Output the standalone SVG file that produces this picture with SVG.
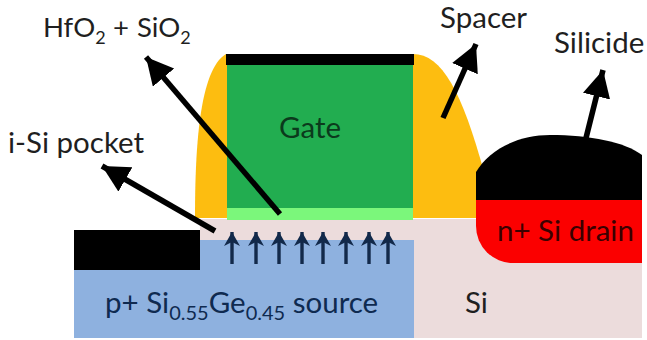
<svg xmlns="http://www.w3.org/2000/svg" width="647" height="340" viewBox="0 0 647 340">
<defs>
<marker id="big" markerUnits="userSpaceOnUse" markerWidth="32" markerHeight="32" refX="27" refY="14" orient="auto"><path d="M0 0L27 14L0 28Z" fill="#000"/></marker>
<marker id="small" markerUnits="userSpaceOnUse" markerWidth="20" markerHeight="20" refX="15" refY="9" orient="auto"><path d="M1 1L15 9L1 17L5 9Z" fill="#12294a"/></marker>
</defs>
<style>
text{font-family:"Lato","Open Sans","Liberation Sans",sans-serif;font-size:29.5px;fill:#1f1f1f}
.s{font-size:20px}
.big{fill:none;stroke:#000;stroke-width:5.5;marker-end:url(#big)}
.up{fill:none;stroke:#12294a;stroke-width:3.4;marker-end:url(#small)}
</style>
<rect width="647" height="340" fill="#fff"/>
<g id="si"><rect x="200" y="219" width="442" height="119" fill="#ecdcdc"/><text x="465" y="313">Si</text></g>
<g id="source"><path d="M74 270H200V240H414V338H74Z" fill="#8eb1df"/><text x="105" y="313" style="fill:#0f2a50">p+ Si<tspan class="s" dy="7">0.55</tspan><tspan dy="-7">Ge</tspan><tspan class="s" dy="7">0.45</tspan><tspan dy="-7"> source</tspan></text></g>
<g id="pocket-block"><rect x="74" y="230" width="126" height="40" fill="#000"/></g>
<g id="spacer"><path d="M195 218C195 150 199 70 226 54H227V218Z" fill="#fdbd10"/><path d="M413 54C442 54 462 92 484 172V218H413Z" fill="#fdbd10"/></g>
<g id="gate"><rect x="227" y="65" width="186" height="143" fill="#22ad50"/><text x="310" y="138" text-anchor="middle" style="fill:#0b3a1c">Gate</text></g>
<g id="gate-top"><rect x="226" y="54" width="188" height="11" fill="#000"/></g>
<g id="oxide"><rect x="227" y="208" width="186" height="12" fill="#7bf77b"/></g>
<g id="drain"><path d="M476 200H642V263H513A37 37 0 0 1 476 226Z" fill="#fb0000"/><text x="497" y="241" style="fill:#3a0000">n+ Si drain</text></g>
<g id="silicide"><path d="M476 200V172C490 148 520 135 550 135C590 135 625 142 642 155V200Z" fill="#000"/></g>
<g id="labels">
<text x="43" y="37" style="font-size:27.5px">HfO<tspan style="font-size:18px" dy="7">2</tspan><tspan x="113" dy="-7">+</tspan><tspan x="137">SiO</tspan><tspan style="font-size:18px" dy="7">2</tspan></text>
<text x="8" y="153">i-Si pocket</text>
<text x="440" y="28">Spacer</text>
<text x="554" y="53">Silicide</text>
</g>
<g id="connectors">
<path class="big" d="M280 214L146 57"/>
<path class="big" d="M215 231L102 166"/>
<path class="big" d="M443 118L476 44"/>
<path class="big" d="M586 138L603 70"/>
<path class="up" d="M232 264V232"/><path class="up" d="M256 264V232"/><path class="up" d="M279 264V232"/><path class="up" d="M302 264V232"/><path class="up" d="M323 264V232"/><path class="up" d="M346 264V232"/><path class="up" d="M369 264V232"/><path class="up" d="M388 264V232"/>
</g>
</svg>
